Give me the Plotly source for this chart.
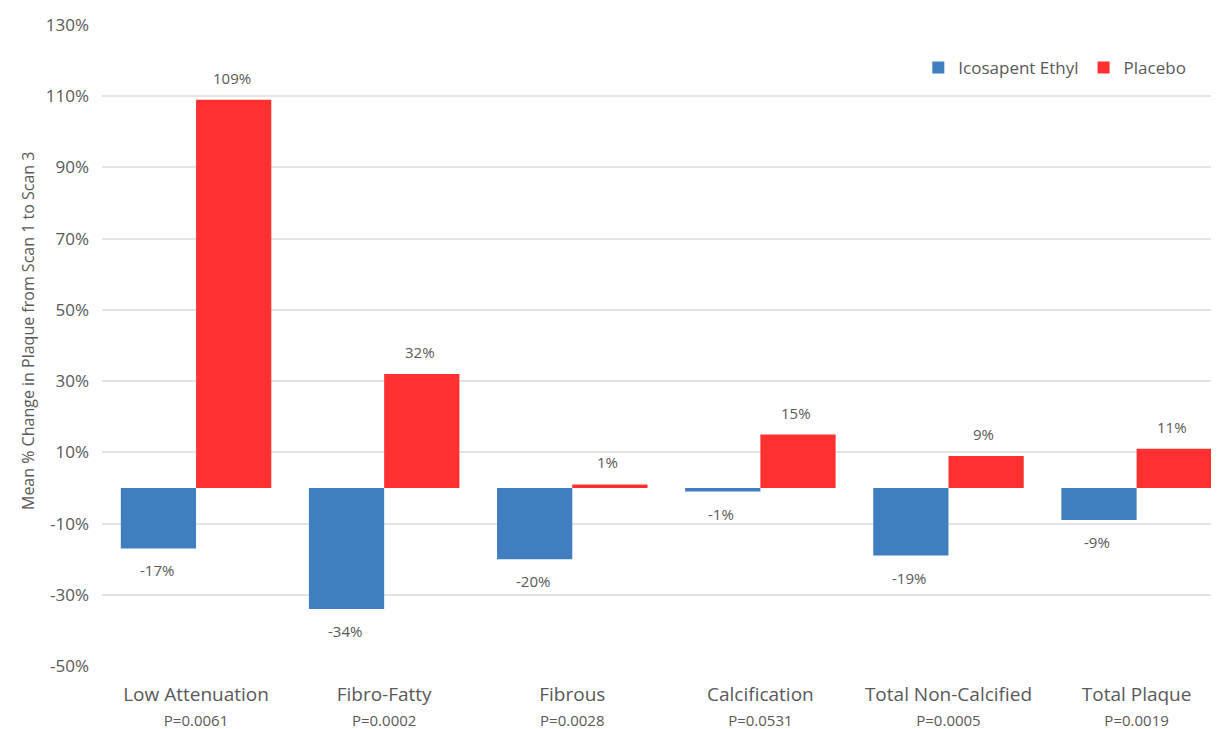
import plotly.graph_objects as go

categories = ["Low Attenuation", "Fibro-Fatty", "Fibrous", "Calcification",
              "Total Non-Calcified", "Total Plaque"]
p_values = ["P=0.0061", "P=0.0002", "P=0.0028", "P=0.0531", "P=0.0005", "P=0.0019"]
icosapent = [-17, -34, -20, -1, -19, -9]
placebo = [109, 32, 1, 15, 9, 11]
y_ticks = [-50, -30, -10, 10, 30, 50, 70, 90, 110, 130]

BLUE = "#3F7FBF"
RED = "#FF3030"
GRAY = "#595959"
FONT = "Open Sans"

tick_text = [f"<span style='font-size:19px'>{c}</span><br><span style='font-size:15px'>{p}</span>"
             for c, p in zip(categories, p_values)]

fig = go.Figure()
fig.add_trace(go.Bar(name="Icosapent Ethyl", x=categories, y=icosapent,
                     marker=dict(color=BLUE, line=dict(width=0))))
fig.add_trace(go.Bar(name="Placebo", x=categories, y=placebo,
                     marker=dict(color=RED, line=dict(width=0))))

annotations = []
for series, shift in ((icosapent, -37.5), (placebo, 37.5)):
    for c, v in zip(categories, series):
        annotations.append(dict(
            x=c, y=v, xref="x", yref="y", text=f"{v}%", showarrow=False,
            xshift=shift - 2, yshift=22 if v >= 0 else -22,
            font=dict(family=FONT, size=15, color=GRAY)))

annotations.append(dict(
    text="Mean % Change in Plaque from Scan 1 to Scan 3", textangle=-90,
    xref="paper", yref="paper", x=-0.0659, y=0.5226, xanchor="center", yanchor="middle",
    showarrow=False, font=dict(family=FONT, size=16, color=GRAY)))

fig.update_layout(
    width=1219, height=729,
    margin=dict(l=94, r=2, t=17, b=71),
    plot_bgcolor="white", paper_bgcolor="white",
    barmode="group", bargap=0.2, bargroupgap=0,
    font=dict(family=FONT, color=GRAY),
    showlegend=True,
    legend=dict(orientation="h", x=0.97, xanchor="right", y=0.933, yanchor="middle",
                font=dict(family=FONT, size=17, color=GRAY), traceorder="normal",
                itemwidth=30, bgcolor="rgba(0,0,0,0)"),
    annotations=annotations,
)
fig.update_xaxes(tickmode="array", tickvals=categories, ticktext=tick_text,
                 range=[-0.5, 5.47], showgrid=False, showline=False, ticks="",
                 ticklabelstandoff=15,
                 tickfont=dict(family=FONT, size=19, color=GRAY))
fig.update_yaxes(range=[-50, 130], tickmode="array", tickvals=y_ticks,
                 ticktext=[f"{t}%" for t in y_ticks],
                 showgrid=True, gridcolor="#E4E4E4", gridwidth=1.5,
                 zeroline=False, showline=False, ticks="", ticklen=0,
                 ticklabelstandoff=12,
                 tickfont=dict(family=FONT, size=17, color=GRAY))

fig.write_html("out.html")
